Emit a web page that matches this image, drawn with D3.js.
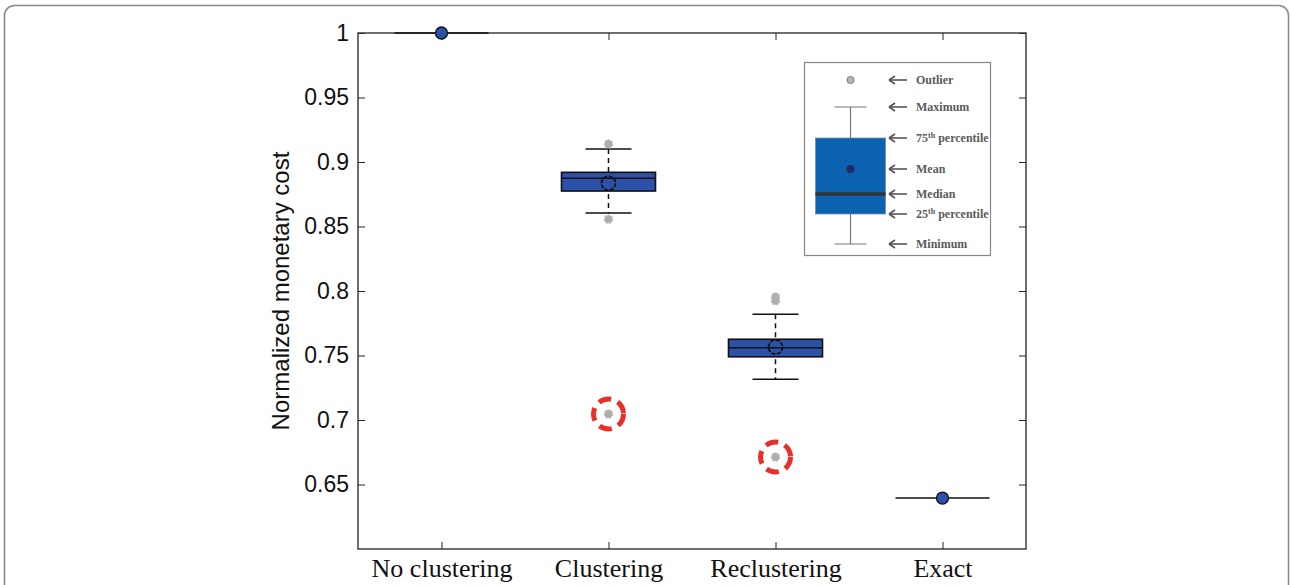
<!DOCTYPE html>
<html>
<head>
<meta charset="utf-8">
<script src="https://cdn.jsdelivr.net/npm/d3@7"></script>
<style>
  html, body { margin: 0; padding: 0; background: #fff; }
  svg { display: block; }
  .axis text { font-family: "Liberation Sans", Arial, sans-serif; font-size: 23px; fill: #111; }
  .axis-x text { font-family: "Liberation Serif", "Times New Roman", serif; font-size: 26px; }
  .axis line { stroke: #222; }
  .legend text { font-family: "Liberation Serif", "Times New Roman", serif; font-weight: bold; font-size: 12px; fill: #5a5a5a; }
</style>
</head>
<body>
<div id="chart"></div>
<script>
// Categories along the x axis
const categories = ['No clustering', 'Clustering', 'Reclustering', 'Exact'];

// Box statistics per category
const whiskerLow  = [1.0,   0.8605, 0.7315, 0.6395];
const q1          = [1.0,   0.8775, 0.749,  0.6395];
const medians     = [1.0,   0.8874, 0.756,  0.6395];
const q3          = [1.0,   0.892,  0.7626, 0.6395];
const whiskerHigh = [1.0,   0.910,  0.782,  0.6395];
const means       = [1.0,   0.8835, 0.7565, 0.6395];

// Outliers (gray markers); the flagged ones get a red dashed ring
const outliers = [
  [],
  [0.914, 0.8556, 0.7047],
  [0.7953, 0.7925, 0.6713],
  [],
];
const flaggedOutliers = [null, 0.7047, 0.6713, null];

const yTicks = [0.65, 0.7, 0.75, 0.8, 0.85, 0.9, 0.95, 1];

// Legend entries, top to bottom
const legendLabels = ['Outlier', 'Maximum', '75th percentile', 'Mean', 'Median', '25th percentile', 'Minimum'];

const W = 1290, H = 585;
const margin = { left: 358, right: 1026, top: 33, bottom: 549 };
const BOX_COLOR = '#2b52a8';

const svg = d3.select('#chart').append('svg')
  .attr('width', W)
  .attr('height', H);

// Outer rounded frame (runs off the bottom of the picture)
svg.append('rect')
  .attr('x', 4.5).attr('y', 5.5)
  .attr('width', 1284).attr('height', 620)
  .attr('rx', 10)
  .attr('fill', 'none')
  .attr('stroke', '#8a8a8a')
  .attr('stroke-width', 1.6);

const x = d3.scalePoint()
  .domain(categories)
  .range([margin.left, margin.right])
  .padding(0.5);

const y = d3.scaleLinear()
  .domain([0.6, 1])
  .range([margin.bottom, margin.top]);

// Axes with inward ticks on all four sides (MATLAB "box on")
svg.append('g')
  .attr('class', 'axis')
  .attr('transform', `translate(${margin.left},0)`)
  .call(d3.axisLeft(y).tickValues(yTicks).tickSize(-7).tickSizeOuter(0).tickPadding(9).tickFormat(d3.format('~g')))
  .call(g => g.select('.domain').remove());

svg.append('g')
  .attr('class', 'axis')
  .attr('transform', `translate(${margin.right},0)`)
  .call(d3.axisRight(y).tickValues(yTicks).tickSize(-7).tickSizeOuter(0).tickFormat(''))
  .call(g => g.select('.domain').remove());

svg.append('g')
  .attr('class', 'axis axis-x')
  .attr('transform', `translate(0,${margin.bottom})`)
  .call(d3.axisBottom(x).tickSize(-7).tickSizeOuter(0).tickPadding(10))
  .call(g => g.select('.domain').remove());

svg.append('g')
  .attr('class', 'axis')
  .attr('transform', `translate(0,${margin.top})`)
  .call(d3.axisTop(x).tickSize(-7).tickSizeOuter(0).tickFormat(''))
  .call(g => g.select('.domain').remove());

// Plot frame
svg.append('rect')
  .attr('x', margin.left).attr('y', margin.top)
  .attr('width', margin.right - margin.left)
  .attr('height', margin.bottom - margin.top)
  .attr('fill', 'none')
  .attr('stroke', '#222')
  .attr('stroke-width', 1.3);

// Y axis title
svg.append('text')
  .attr('transform', `translate(289,${(margin.top + margin.bottom) / 2}) rotate(-90)`)
  .attr('text-anchor', 'middle')
  .style('font-family', '"Liberation Sans", Arial, sans-serif')
  .style('font-size', '24px')
  .style('fill', '#111')
  .text('Normalized monetary cost');

const boxHalf = 47;
const capHalf = 23;

const rows = categories.map((c, i) => ({
  cat: c,
  lo: whiskerLow[i], q1: q1[i], med: medians[i], q3: q3[i], hi: whiskerHigh[i],
  mean: means[i], outliers: outliers[i], flagged: flaggedOutliers[i],
}));

const groups = svg.append('g').selectAll('g')
  .data(rows)
  .enter().append('g');

// Whiskers (dashed stems + solid caps), only where the box has spread
groups.filter(d => d.hi > d.lo).each(function (d) {
  const g = d3.select(this);
  const cx = x(d.cat);
  g.append('line')
    .attr('x1', cx).attr('x2', cx)
    .attr('y1', y(d.hi)).attr('y2', y(d.lo))
    .attr('stroke', '#111').attr('stroke-width', 1.5)
    .attr('stroke-dasharray', '5,4');
  [d.hi, d.lo].forEach(v => {
    g.append('line')
      .attr('x1', cx - capHalf).attr('x2', cx + capHalf)
      .attr('y1', y(v)).attr('y2', y(v))
      .attr('stroke', '#111').attr('stroke-width', 1.5);
  });
});

// Boxes (collapse to a line when all values coincide)
groups.append('rect')
  .attr('x', d => x(d.cat) - boxHalf)
  .attr('y', d => y(d.q3))
  .attr('width', boxHalf * 2)
  .attr('height', d => y(d.q1) - y(d.q3))
  .attr('fill', BOX_COLOR)
  .attr('stroke', '#111')
  .attr('stroke-width', 1.6);

// Medians
groups.append('line')
  .attr('x1', d => x(d.cat) - boxHalf)
  .attr('x2', d => x(d.cat) + boxHalf)
  .attr('y1', d => y(d.med))
  .attr('y2', d => y(d.med))
  .attr('stroke', '#111')
  .attr('stroke-width', 1.6);

// Outliers
groups.each(function (d) {
  const g = d3.select(this);
  d.outliers.forEach(v => {
    g.append('path')
      .attr('transform', `translate(${x(d.cat)},${y(v)})`)
      .attr('d', d3.symbol(d3.symbolCircle, 50)())
      .attr('fill', '#adadad')
      .attr('stroke', '#b8b8b8')
      .attr('stroke-width', 1.5)
      .attr('stroke-dasharray', '2,1.5');
  });
});

// Red dashed rings around flagged outliers
groups.filter(d => d.flagged != null)
  .append('circle')
  .attr('cx', d => x(d.cat))
  .attr('cy', d => y(d.flagged))
  .attr('r', 15)
  .attr('fill', 'none')
  .attr('stroke', '#ea2f2a')
  .attr('stroke-width', 5)
  .attr('stroke-dasharray', '13,7');

// Mean markers: hollow dashed ring on boxes, filled dot where there is no spread
groups.append('circle')
  .attr('cx', d => x(d.cat))
  .attr('cy', d => y(d.mean))
  .attr('r', d => d.hi > d.lo ? 7 : 6)
  .attr('fill', d => d.hi > d.lo ? 'none' : BOX_COLOR)
  .attr('stroke', '#111')
  .attr('stroke-width', d => d.hi > d.lo ? 1.8 : 1.3)
  .attr('stroke-dasharray', d => d.hi > d.lo ? '4,1.5' : null);

// ---- Legend ----
const legend = svg.append('g').attr('class', 'legend');
legend.append('rect')
  .attr('x', 804.5).attr('y', 62.5)
  .attr('width', 186).attr('height', 193)
  .attr('fill', '#fff')
  .attr('stroke', '#888')
  .attr('stroke-width', 1.2);

const lgX = 850.5;
const lgY = [80, 107, 138, 169, 194, 214, 244];

legend.append('line')
  .attr('x1', lgX).attr('x2', lgX).attr('y1', lgY[1]).attr('y2', lgY[6])
  .attr('stroke', '#777').attr('stroke-width', 1.2);
[lgY[1], lgY[6]].forEach(v => {
  legend.append('line')
    .attr('x1', lgX - 16).attr('x2', lgX + 16).attr('y1', v).attr('y2', v)
    .attr('stroke', '#777').attr('stroke-width', 1.2);
});
legend.append('rect')
  .attr('x', 815.5).attr('y', lgY[2])
  .attr('width', 70).attr('height', lgY[5] - lgY[2])
  .attr('fill', '#0a62b0')
  .attr('stroke', '#7a8a9a')
  .attr('stroke-width', 0.8);
legend.append('line')
  .attr('x1', 815.5).attr('x2', 885.5).attr('y1', lgY[4]).attr('y2', lgY[4])
  .attr('stroke', '#333').attr('stroke-width', 3.5);
legend.append('circle')
  .attr('cx', lgX).attr('cy', lgY[3]).attr('r', 3.8)
  .attr('fill', '#1c2a70').attr('stroke', '#333').attr('stroke-width', 0.8);
legend.append('circle')
  .attr('cx', lgX).attr('cy', lgY[0]).attr('r', 3.5)
  .attr('fill', '#b5b5b5').attr('stroke', '#777').attr('stroke-width', 1);

// Arrows and labels
const arrows = legend.selectAll('g.entry')
  .data(legendLabels)
  .enter().append('g')
  .attr('class', 'entry')
  .attr('transform', (d, i) => `translate(0,${lgY[i]})`);

arrows.append('line')
  .attr('x1', 890).attr('x2', 907).attr('y1', 0).attr('y2', 0)
  .attr('stroke', '#555').attr('stroke-width', 1.6);
arrows.append('path')
  .attr('d', 'M889,0 L895,-4 M889,0 L895,4')
  .attr('stroke', '#555').attr('stroke-width', 1.6).attr('fill', 'none');

arrows.append('text')
  .attr('x', 916)
  .attr('y', 4)
  .each(function (d) {
    const t = d3.select(this);
    const m = d.match(/^(\d+)(th)(.*)$/);
    if (m) {
      t.append('tspan').text(m[1]);
      t.append('tspan').attr('dy', -4).style('font-size', '8px').text(m[2]);
      t.append('tspan').attr('dy', 4).text(m[3]);
    } else {
      t.text(d);
    }
  });
</script>
</body>
</html>
